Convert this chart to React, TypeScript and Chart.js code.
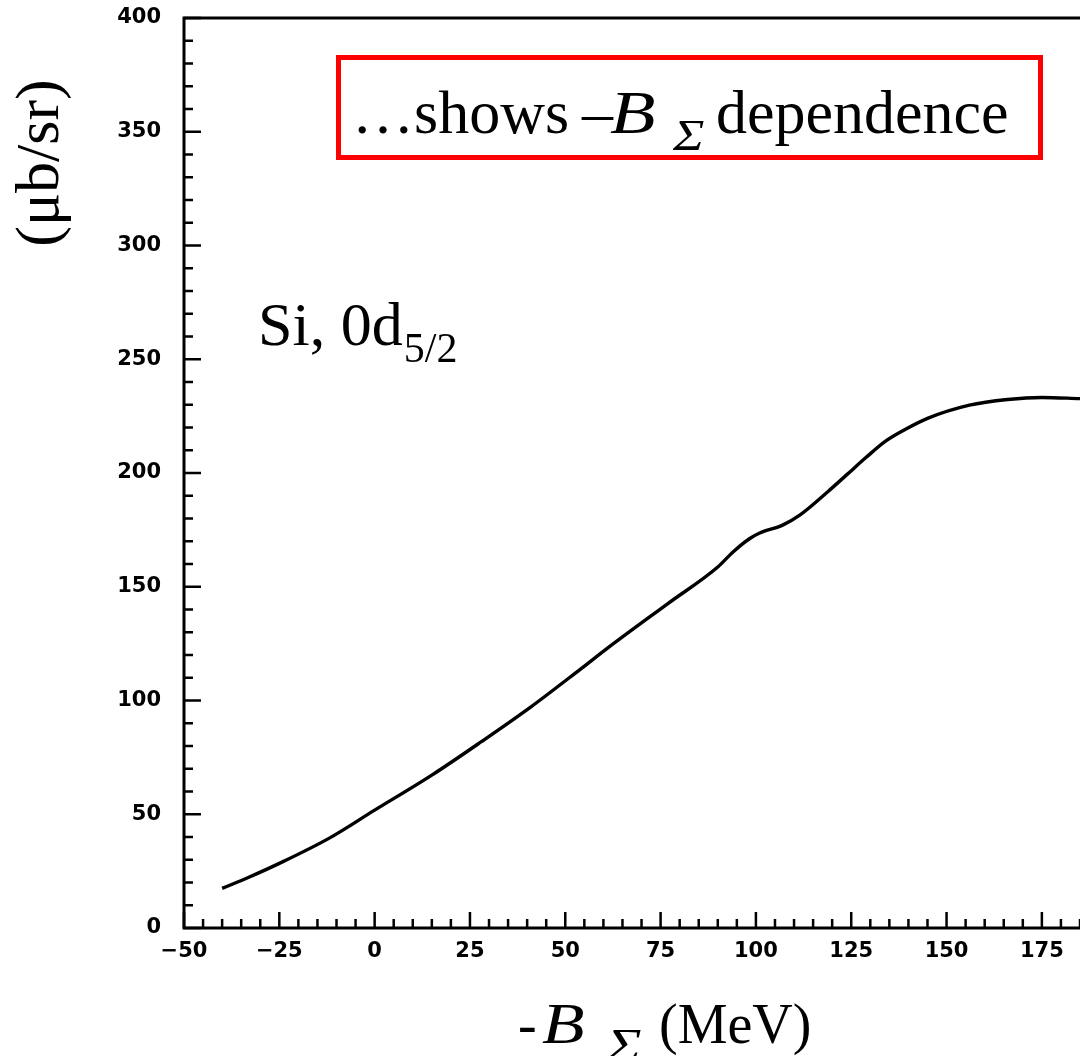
import React, { useEffect, useRef } from "react";
import { Chart, registerables } from "chart.js";

Chart.register(...registerables);

// Data
const xValues = [-40, -33, -25, -12, 0, 15, 28, 41, 54, 61, 77, 90, 94, 98.4, 101, 107, 111.5, 119, 124, 129, 134, 139, 145, 156, 166, 175, 185];
const yValues = [17.4, 22.3, 28.4, 39.4, 51.8, 67.2, 81.9, 97.2, 113.8, 122.9, 142.7, 158.7, 165.3, 171.2, 173.6, 177.1, 181.5, 192, 199.5, 207, 214, 219, 224, 229.8, 232.3, 233.2, 232.7];

const xTickValues = [-50, -25, 0, 25, 50, 75, 100, 125, 150, 175];
const yTickValues = [0, 50, 100, 150, 200, 250, 300, 350, 400];
const xMinorStep = 5;
const yMinorStep = 10;
const xRange = [-50, 185];
const yRange = [0, 400];

const serif = '"Liberation Serif", "Times New Roman", serif';

function drawWide(ctx: CanvasRenderingContext2D, text: string, x: number, y: number, sx: number) {
  ctx.save();
  ctx.translate(x, y);
  ctx.scale(sx, 1);
  ctx.fillText(text, 0, 0);
  ctx.restore();
}

const framePlugin = {
  id: "frame",
  afterDraw(chart: any) {
    const { ctx, chartArea: a, scales } = chart;
    const x = scales.x;
    const y = scales.y;
    ctx.save();
    ctx.strokeStyle = "#000";
    ctx.lineWidth = 3;
    ctx.lineCap = "butt";
    ctx.beginPath();
    ctx.moveTo(a.right, a.top);
    ctx.lineTo(a.left, a.top);
    ctx.lineTo(a.left, a.bottom);
    ctx.lineTo(a.right, a.bottom);
    ctx.stroke();

    ctx.lineWidth = 2.5;
    ctx.beginPath();
    for (let v = xRange[0]; v <= xRange[1]; v += xMinorStep) {
      const px = x.getPixelForValue(v);
      const major = xTickValues.includes(v);
      ctx.moveTo(px, a.bottom);
      ctx.lineTo(px, a.bottom - (major ? 16 : 9));
    }
    for (let v = yRange[0]; v <= yRange[1]; v += yMinorStep) {
      const py = y.getPixelForValue(v);
      const major = yTickValues.includes(v);
      ctx.moveTo(a.left, py);
      ctx.lineTo(a.left + (major ? 17 : 9), py);
    }
    ctx.stroke();

    ctx.fillStyle = "#000";
    ctx.textBaseline = "alphabetic";
    ctx.textAlign = "left";

    // Red box annotation
    ctx.strokeStyle = "#ff0000";
    ctx.lineWidth = 5;
    ctx.strokeRect(338.5, 57.5, 702, 100);
    ctx.font = `62px ${serif}`;
    ctx.fillText("\u2026shows", 352, 133);
    ctx.fillText("\u2013", 582, 133);
    ctx.font = `italic 62px ${serif}`;
    drawWide(ctx, "B", 610, 133, 1.2);
    ctx.font = `italic 44px ${serif}`;
    drawWide(ctx, "\u03A3", 673, 150, 1.2);
    ctx.font = `62px ${serif}`;
    ctx.fillText("dependence", 716, 133);

    // Si, 0d5/2
    ctx.font = `62px ${serif}`;
    ctx.fillText("Si, 0d", 258, 345);
    const w = ctx.measureText("Si, 0d").width;
    ctx.font = `42px ${serif}`;
    ctx.fillText("5/2", 258 + w + 1, 362);

    // X axis title
    ctx.font = `56px ${serif}`;
    ctx.fillText("-", 518, 1043);
    ctx.font = `italic 58px ${serif}`;
    drawWide(ctx, "B", 542, 1043, 1.2);
    ctx.font = `italic 46px ${serif}`;
    drawWide(ctx, "\u03A3", 606, 1061, 1.3);
    ctx.font = `56px ${serif}`;
    ctx.fillText("(MeV)", 659, 1043);

    // Y axis title
    ctx.save();
    ctx.translate(58, 163);
    ctx.rotate(-Math.PI / 2);
    ctx.font = `62px ${serif}`;
    ctx.textAlign = "center";
    ctx.fillText("(\u03BCb/sr)", 0, 0);
    ctx.restore();

    ctx.restore();
  },
};

export default function App() {
  const ref = useRef<HTMLCanvasElement | null>(null);
  useEffect(() => {
    document.body.style.margin = "0";
    const canvas = ref.current!;
    const points = xValues.map((v, i) => ({ x: v, y: yValues[i] }));
    const tickFont = { family: '"DejaVu Sans", sans-serif', size: 21, weight: "bold" as const };
    const chart = new Chart(canvas, {
      type: "line",
      data: {
        datasets: [
          {
            data: points,
            borderColor: "#000",
            borderWidth: 3.4,
            pointRadius: 0,
            cubicInterpolationMode: "monotone",
            fill: false,
          },
        ],
      },
      options: {
        animation: false,
        responsive: false,
        devicePixelRatio: 1,
        events: [],
        layout: { padding: { top: 18, right: 0, left: 0, bottom: 0 } },
        plugins: { legend: { display: false }, tooltip: { enabled: false }, title: { display: false } },
        scales: {
          x: {
            type: "linear",
            min: xRange[0],
            max: xRange[1],
            grid: { display: false, drawTicks: false },
            border: { display: false },
            afterBuildTicks: (s: any) => {
              s.ticks = xTickValues.map((v) => ({ value: v }));
            },
            afterFit: (s: any) => {
              s.height = 128;
              s.paddingLeft = 0;
              s.paddingRight = 0;
              s.paddingTop = 0;
              s.paddingBottom = 0;
            },
            ticks: {
              color: "#000",
              font: tickFont,
              padding: 11,
              maxRotation: 0,
              autoSkip: false,
              callback: (v: any) => (Number(v) < 0 ? "\u2212" + Math.abs(Number(v)) : String(v)),
            },
          },
          y: {
            type: "linear",
            min: yRange[0],
            max: yRange[1],
            grid: { display: false, drawTicks: false },
            border: { display: false },
            afterBuildTicks: (s: any) => {
              s.ticks = yTickValues.map((v) => ({ value: v }));
            },
            afterFit: (s: any) => {
              s.width = 184;
              s.paddingTop = 0;
              s.paddingBottom = 0;
              s.paddingLeft = 0;
              s.paddingRight = 0;
            },
            ticks: {
              color: "#000",
              font: tickFont,
              padding: 23,
              autoSkip: false,
            },
          },
        },
      },
      plugins: [framePlugin],
    } as any);
    return () => chart.destroy();
  }, []);
  return (
    <div style={{ position: "absolute", left: 0, top: 0, width: 1080, height: 1056, background: "#fff" }}>
      <canvas ref={ref} width={1080} height={1056} style={{ display: "block", width: 1080, height: 1056 }} />
    </div>
  );
}
